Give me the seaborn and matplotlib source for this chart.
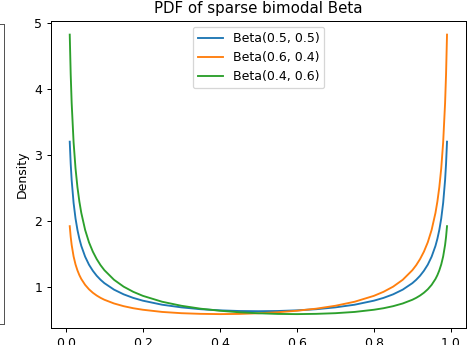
import matplotlib
matplotlib.use("Agg")
import matplotlib.pyplot as plt
import numpy as np
import pandas as pd
import seaborn as sns

# x grid and densities
x_vals = [0.01, 0.0125, 0.015, 0.02, 0.025, 0.03, 0.035, 0.04, 0.05, 0.06, 0.07, 0.08,
          0.09, 0.10, 0.125, 0.15, 0.175, 0.20, 0.25, 0.30, 0.35, 0.40, 0.45, 0.50,
          0.55, 0.60, 0.65, 0.70, 0.75, 0.80, 0.825, 0.85, 0.875, 0.90, 0.91, 0.92,
          0.93, 0.94, 0.95, 0.96, 0.965, 0.97, 0.975, 0.98, 0.985, 0.9875, 0.99]

beta_05_05 = [3.199, 2.865, 2.619, 2.274, 2.039, 1.866, 1.732, 1.624, 1.461, 1.340, 1.248, 1.173,
              1.112, 1.061, 0.963, 0.892, 0.838, 0.796, 0.735, 0.695, 0.667, 0.650, 0.640, 0.637,
              0.640, 0.650, 0.667, 0.695, 0.735, 0.796, 0.838, 0.892, 0.963, 1.061, 1.112, 1.173,
              1.248, 1.340, 1.461, 1.624, 1.732, 1.866, 2.039, 2.274, 2.619, 2.865, 3.199]

beta_06_04 = [1.922, 1.760, 1.639, 1.465, 1.344, 1.254, 1.182, 1.124, 1.035, 0.968, 0.916, 0.874,
              0.839, 0.810, 0.754, 0.713, 0.682, 0.659, 0.626, 0.607, 0.597, 0.593, 0.596, 0.606,
              0.621, 0.644, 0.675, 0.719, 0.780, 0.869, 0.930, 1.008, 1.112, 1.257, 1.333, 1.425,
              1.537, 1.678, 1.865, 2.123, 2.295, 2.512, 2.797, 3.191, 3.785, 4.217, 4.817]

beta_04_06 = [4.817, 4.217, 3.785, 3.191, 2.797, 2.512, 2.295, 2.123, 1.865, 1.678, 1.537, 1.425,
              1.333, 1.257, 1.112, 1.008, 0.930, 0.869, 0.780, 0.719, 0.675, 0.644, 0.621, 0.606,
              0.596, 0.593, 0.597, 0.607, 0.626, 0.659, 0.682, 0.713, 0.754, 0.810, 0.839, 0.874,
              0.916, 0.968, 1.035, 1.124, 1.182, 1.254, 1.344, 1.465, 1.639, 1.760, 1.922]

labels = ["Beta(0.5, 0.5)", "Beta(0.6, 0.4)", "Beta(0.4, 0.6)"]
series = [beta_05_05, beta_06_04, beta_04_06]

rows = []
for lab, ys in zip(labels, series):
    for x, y in zip(x_vals, ys):
        rows.append({"x": x, "Density": y, "dist": lab})
df = pd.DataFrame(rows)

fig = plt.figure(figsize=(5.234, 3.834), dpi=90)

# edge of the neighbouring subplot that is cut off on the left
nb = fig.add_axes([-0.5, 0.061, 0.508, 0.869])
nb.set_xticks([])
nb.set_yticks([])
for sp in nb.spines.values():
    sp.set_color("#555555")

ax = fig.add_axes([0.108, 0.049, 0.881, 0.891])
sns.lineplot(data=df, x="x", y="Density", hue="dist", hue_order=labels,
             palette=["#1f77b4", "#ff7f0e", "#2ca02c"], ax=ax)
ax.set_xlabel("")
ax.set_ylabel("Density")
ax.set_title("PDF of sparse bimodal Beta")
sns.move_legend(ax, "upper center", title=None)

fig.savefig("out.png", dpi=90)
